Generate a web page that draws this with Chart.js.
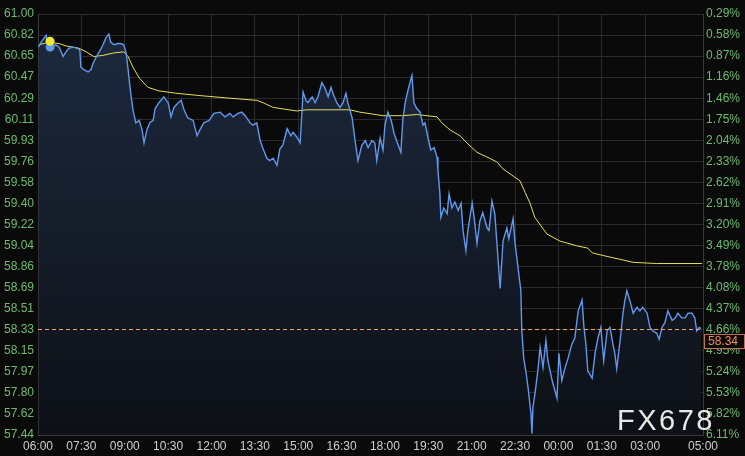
<!DOCTYPE html>
<html>
<head>
<meta charset="utf-8">
<script src="https://cdn.jsdelivr.net/npm/chart.js@4.4.1/dist/chart.umd.min.js"></script>
<style>
  html, body { margin: 0; padding: 0; background: #0a0a0b; }
  #wrap { width: 745px; height: 456px; }
</style>
</head>
<body>
<div id="wrap"><canvas id="chart" width="745" height="456"></canvas></div>
<script>
// minutes after 06:00
const minutes = [
  1, 6, 17, 20, 27, 37, 44, 52, 58, 64,
  73, 83, 87, 89, 95, 104, 110, 114, 120, 127,
  135, 141, 147, 151, 158, 166, 172, 178, 183, 187,
  191, 197, 203, 210, 216, 220, 226, 232, 239, 243,
  251, 261, 270, 276, 282, 291, 297, 303, 311, 322,
  330, 336, 344, 355, 365, 378, 388, 398, 405, 415,
  423, 430, 440, 446, 454, 461, 467, 475, 481, 488,
  496, 502, 508, 517, 525, 529, 537, 544, 548, 550,
  556, 560, 569, 575, 581, 589, 596, 602, 608, 612,
  620, 627, 633, 639, 643, 652, 658, 664, 672, 679,
  685, 693, 699, 703, 710, 716, 720, 726, 733, 739,
  745, 753, 757, 762, 768, 776, 780, 786, 793, 799,
  803, 809, 815, 822, 828, 830, 834, 836, 842, 849,
  853, 859, 865, 872, 878, 882, 888, 892, 901, 905,
  911, 917, 923, 932, 936, 942, 948, 952, 959, 965,
  973, 977, 986, 990, 996, 1002, 1004, 1008, 1013, 1017,
  1023, 1025, 1027, 1033, 1038, 1042, 1048, 1054, 1058, 1067,
  1073, 1077, 1081, 1087, 1094, 1100, 1108, 1114, 1121, 1129,
  1133, 1137, 1141, 1150, 1156, 1162, 1168, 1174, 1181, 1187,
  1193, 1197, 1201, 1208, 1214, 1218, 1222, 1228, 1235, 1243,
  1249, 1255, 1264, 1270, 1276, 1284, 1289, 1295, 1301, 1307,
  1316, 1322, 1328, 1336, 1343, 1349, 1357, 1363, 1367, 1372, 1376
]
const price = [
  60.72, 60.76, 60.82, 60.75, 60.72, 60.74, 60.72, 60.64, 60.68, 60.71,
  60.72, 60.71, 60.69, 60.55, 60.53, 60.51, 60.53, 60.58, 60.63, 60.68,
  60.74, 60.80, 60.83, 60.76, 60.74, 60.75, 60.75, 60.74, 60.67, 60.53,
  60.38, 60.19, 60.08, 60.10, 60.02, 59.91, 60.02, 60.08, 60.10, 60.20,
  60.25, 60.30, 60.25, 60.13, 60.21, 60.25, 60.27, 60.19, 60.12, 60.10,
  59.97, 60.02, 60.08, 60.10, 60.16, 60.17, 60.13, 60.16, 60.13, 60.16,
  60.17, 60.14, 60.08, 60.06, 60.08, 59.93, 59.86, 59.78, 59.76, 59.78,
  59.72, 59.86, 59.89, 60.03, 59.97, 60.00, 59.96, 59.91, 60.19, 60.34,
  60.27, 60.25, 60.30, 60.25, 60.30, 60.42, 60.37, 60.30, 60.38, 60.33,
  60.25, 60.21, 60.25, 60.33, 60.25, 60.12, 59.93, 59.76, 59.89, 59.93,
  59.87, 59.93, 59.91, 59.76, 59.95, 59.85, 60.06, 60.17, 60.10, 59.99,
  59.92, 59.83, 60.10, 60.25, 60.36, 60.48, 60.25, 60.20, 60.17, 60.06,
  60.08, 59.96, 59.85, 59.87, 59.79, 59.68, 59.48, 59.28, 59.36, 59.31,
  59.48, 59.36, 59.41, 59.34, 59.40, 59.17, 59.00, 59.17, 59.40, 59.28,
  59.06, 59.25, 59.32, 59.19, 59.17, 59.42, 59.31, 59.08, 58.68, 59.08,
  59.19, 59.10, 59.27, 59.06, 58.86, 58.66, 58.32, 58.09, 57.96, 57.84,
  57.62, 57.45, 57.67, 57.84, 58.01, 58.18, 58.01, 58.24, 58.07, 57.90,
  57.81, 57.75, 58.13, 57.90, 58.01, 58.09, 58.21, 58.26, 58.49, 58.58,
  58.35, 58.21, 57.98, 57.92, 58.13, 58.26, 58.35, 58.07, 58.32, 58.35,
  58.21, 58.13, 58.00, 58.24, 58.47, 58.58, 58.66, 58.58, 58.47, 58.52,
  58.49, 58.52, 58.47, 58.35, 58.32, 58.30, 58.25, 58.35, 58.39, 58.49,
  58.41, 58.43, 58.47, 58.43, 58.43, 58.47, 58.47, 58.43, 58.32, 58.35, 58.34
]

// average price line
const avgMinutes = [
  2, 23, 44, 58, 85, 100, 116, 135, 156, 178,
  187, 197, 210, 228, 251, 286, 336, 392, 454, 467,
  488, 537, 558, 600, 647, 668, 716, 757, 786, 828,
  838, 855, 876, 890, 911, 932, 952, 965, 1000, 1011,
  1021, 1031, 1056, 1083, 1118, 1141, 1150, 1181, 1214, 1235,
  1284, 1378
]
const avgPrice = [
  60.74, 60.76, 60.75, 60.73, 60.71, 60.68, 60.64, 60.65, 60.67, 60.68,
  60.64, 60.55, 60.46, 60.38, 60.35, 60.33, 60.31, 60.29, 60.27, 60.25,
  60.21, 60.18, 60.19, 60.19, 60.19, 60.17, 60.14, 60.14, 60.15, 60.13,
  60.08, 60.02, 59.97, 59.91, 59.83, 59.79, 59.75, 59.69, 59.59, 59.49,
  59.40, 59.28, 59.14, 59.08, 59.04, 59.02, 58.98, 58.95, 58.92, 58.90,
  58.89, 58.89
]

const lastPrice = 58.34
const startMinute = 25
const startAvg = 60.77
const startPrice = 60.72

const yMin = 57.44
const yMax = 61.00
const leftTicks = ['61.00', '60.82', '60.65', '60.47', '60.29', '60.11', '59.93', '59.76', '59.58', '59.40',
  '59.22', '59.04', '58.86', '58.69', '58.51', '58.33', '58.15', '57.97', '57.80', '57.62', '57.44']
const rightTicks = ['0.29%', '0.58%', '0.87%', '1.16%', '1.46%', '1.75%', '2.04%', '2.33%', '2.62%', '2.91%',
  '3.20%', '3.49%', '3.78%', '4.08%', '4.37%', '4.66%', '4.95%', '5.24%', '5.53%', '5.82%', '6.11%']
const timeTicks = [0, 90, 180, 270, 360, 450, 540, 630, 720, 810, 900, 990, 1080, 1170, 1260, 1380]
const timeLabels = ['06:00', '07:30', '09:00', '10:30', '12:00', '13:30', '15:00', '16:30', '18:00', '19:30',
  '21:00', '22:30', '00:00', '01:30', '03:00', '05:00']

const yStep = (yMax - yMin) / (leftTicks.length - 1)
const yTickValues = leftTicks.map((t, i) => yMax - i * yStep)

const priceData = minutes.map((m, i) => ({ x: m, y: price[i] }))
const avgData = avgMinutes.map((m, i) => ({ x: m, y: avgPrice[i] }))

const font = { family: '"Liberation Sans", Arial, sans-serif', size: 12 }

// dashed last price line, price box and watermark
const overlay = {
  id: 'overlay',
  afterDraw(chart) {
    const { ctx, chartArea } = chart
    const y = Math.round(chart.scales.y.getPixelForValue(lastPrice)) + 0.5
    ctx.save()
    ctx.strokeStyle = '#f0a458'
    ctx.lineWidth = 1
    ctx.setLineDash([4, 3])
    ctx.beginPath()
    ctx.moveTo(chartArea.left, y)
    ctx.lineTo(chartArea.right, y)
    ctx.stroke()
    ctx.setLineDash([])

    ctx.fillStyle = '#0a0a0b'
    ctx.fillRect(chartArea.right + 1, y + 5, 40, 14)
    ctx.strokeStyle = '#c2704c'
    ctx.strokeRect(chartArea.right + 1.5, y + 5, 40, 14)
    ctx.fillStyle = '#f08a5c'
    ctx.font = '12px "Liberation Sans", Arial, sans-serif'
    ctx.textBaseline = 'middle'
    ctx.fillText(lastPrice.toFixed(2), chartArea.right + 5, y + 12.5)

    ctx.fillStyle = '#e8e8e8'
    ctx.font = '29px "Liberation Sans", Arial, sans-serif'
    ctx.textBaseline = 'alphabetic'
    ctx.letterSpacing = '2.5px'
    ctx.fillText('FX678', 617, 430)
    ctx.restore()
  }
}

new Chart(document.getElementById('chart'), {
  type: 'line',
  data: {
    datasets: [
      {
        // blue price line on top
        data: priceData,
        borderColor: '#6098ee',
        borderWidth: 1.4,
        pointRadius: 0,
        tension: 0,
        fill: false,
        order: 0
      },
      {
        data: avgData,
        borderColor: '#e6de58',
        borderWidth: 1,
        pointRadius: 0,
        tension: 0,
        fill: false,
        order: 1
      },
      {
        // area under the price line
        data: priceData,
        borderWidth: 0,
        borderColor: 'rgba(0,0,0,0)',
        pointRadius: 0,
        tension: 0,
        fill: 'start',
        backgroundColor: (c) => {
          const area = c.chart.chartArea
          if (!area) return 'rgba(0,0,0,0)'
          const g = c.chart.ctx.createLinearGradient(0, area.top, 0, area.bottom)
          g.addColorStop(0, '#1d2a3f')
          g.addColorStop(1, '#0d1016')
          return g
        },
        order: 2
      },
      {
        data: [{ x: startMinute, y: startAvg }],
        pointRadius: 4.5,
        pointBackgroundColor: '#f2e634',
        pointBorderWidth: 0,
        showLine: false,
        order: -1
      },
      {
        data: [{ x: startMinute, y: startPrice }],
        pointRadius: 4.5,
        pointBackgroundColor: '#6098ee',
        pointBorderWidth: 0,
        showLine: false,
        order: -1
      }
    ]
  },
  options: {
    responsive: false,
    animation: false,
    devicePixelRatio: 1,
    layout: { padding: { top: 14, left: 0, right: 0, bottom: 0 } },
    plugins: {
      legend: { display: false },
      tooltip: { enabled: false }
    },
    scales: {
      x: {
        type: 'linear',
        min: 0,
        max: 1380,
        afterBuildTicks: (s) => { s.ticks = timeTicks.map(v => ({ value: v })) },
        afterFit: (s) => { s.height = 21 },
        ticks: {
          autoSkip: false,
          maxRotation: 0,
          padding: 4,
          color: '#cfcfcf',
          font: font,
          callback: (v, i) => timeLabels[i]
        },
        grid: { color: '#2a2b2e', drawTicks: false },
        border: { color: '#3a3a3c' }
      },
      y: {
        position: 'left',
        min: yMin,
        max: yMax,
        afterBuildTicks: (s) => { s.ticks = yTickValues.map(v => ({ value: v })) },
        afterFit: (s) => { s.width = 38 },
        ticks: {
          autoSkip: false,
          padding: 4,
          color: '#6cbb6c',
          font: font,
          callback: (v, i) => leftTicks[i]
        },
        grid: { color: '#2a2b2e', drawTicks: false },
        border: { color: '#3a3a3c' }
      },
      y2: {
        position: 'right',
        min: yMin,
        max: yMax,
        afterBuildTicks: (s) => { s.ticks = yTickValues.map(v => ({ value: v })) },
        afterFit: (s) => { s.width = 42 },
        ticks: {
          autoSkip: false,
          padding: 3,
          color: '#6cbb6c',
          font: font,
          callback: (v, i) => rightTicks[i]
        },
        grid: { display: false, drawTicks: false },
        border: { color: '#3a3a3c' }
      }
    }
  },
  plugins: [overlay]
})
</script>
</body>
</html>
